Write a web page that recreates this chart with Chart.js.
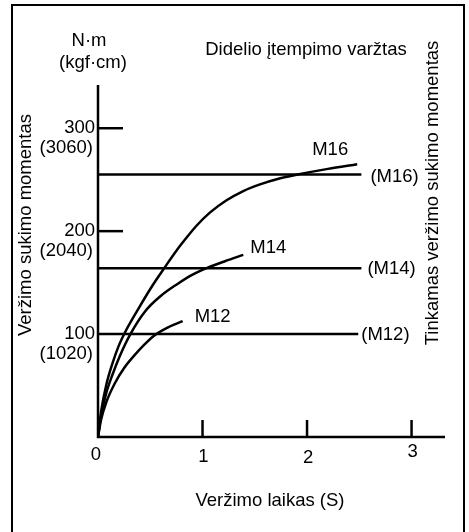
<!DOCTYPE html>
<html lang="lt">
<head>
  <meta charset="UTF-8" />
  <title>Veržimo sukimo momentas</title>
  <style>
    * { margin: 0; padding: 0; box-sizing: border-box; }
    body { background: white; width: 469px; height: 532px; overflow: hidden; }
    #wrap { position: relative; width: 469px; height: 532px; }
  </style>
</head>
<body>
  <div id="wrap"><canvas id="chartCanvas" width="469" height="532"></canvas></div>

  <script src="https://cdn.jsdelivr.net/npm/chart.js"></script>
  <script>
    // curves: x = time (s), y = torque (N·m)
    const m16X = [0, 0.03, 0.08, 0.14, 0.2, 0.27, 0.4, 0.52, 0.64, 0.75, 0.85, 0.94, 1.07, 1.23, 1.39, 1.55, 1.71, 1.91, 2.2, 2.48];
    const m16Y = [0, 25, 51, 72, 89, 104, 127, 147, 165, 181, 194, 205, 218, 230, 239, 245.5, 250.5, 255, 260.5, 265];
    const m14X = [0, 0.03, 0.08, 0.14, 0.21, 0.31, 0.45, 0.6, 0.75, 0.9, 1.05, 1.22, 1.39];
    const m14Y = [0, 21, 43, 61, 79, 100, 122, 137, 148, 157.5, 164.5, 171, 177];
    const m12X = [0, 0.03, 0.08, 0.16, 0.25, 0.35, 0.45, 0.53, 0.67, 0.81];
    const m12Y = [0, 17, 34, 52, 67, 79.5, 90.5, 98, 106.5, 112.5];

    // recommended torque lines
    const limitNames = ['(M16)', '(M14)', '(M12)'];
    const limitValues = [255, 164, 100];
    const limitEnds = [2.52, 2.52, 2.49];

    const curveNames = ['M16', 'M14', 'M12'];
    const xTicks = [0, 1, 2, 3];
    const yTicks = [100, 200, 300];
    const yTickLabels = ['100', '200', '300'];
    const yTickKgf = ['(1020)', '(2040)', '(3060)'];

    const FONT = '18.5px "Liberation Sans", Arial, sans-serif';

    function pts(xs, ys) {
      return xs.map((x, i) => ({ x: x, y: ys[i] }));
    }

    const datasets = [
      { data: pts(m16X, m16Y), cubicInterpolationMode: 'monotone' },
      { data: pts(m14X, m14Y), cubicInterpolationMode: 'monotone' },
      { data: pts(m12X, m12Y), cubicInterpolationMode: 'monotone' }
    ];
    limitValues.forEach((v, i) => {
      datasets.push({ data: [{ x: 0, y: v }, { x: limitEnds[i], y: v }] });
    });
    datasets.forEach(d => {
      d.showLine = true;
      d.borderColor = '#000';
      d.borderWidth = 2.5;
      d.pointRadius = 0;
      d.fill = false;
    });

    // axes, ticks, labels and frame
    const drawing = {
      id: 'drawing',
      afterDatasetsDraw(chart) {
        const c = chart.ctx;
        const xs = chart.scales.x, ys = chart.scales.y;
        const x0 = xs.getPixelForValue(0), y0 = ys.getPixelForValue(0);
        c.save();
        c.strokeStyle = '#000';
        c.fillStyle = '#000';

        // frame (open at the bottom, like the scan)
        c.lineWidth = 2;
        c.beginPath();
        c.moveTo(12, 532); c.lineTo(12, 5); c.lineTo(464, 5); c.lineTo(464, 532);
        c.stroke();

        // axes
        c.lineWidth = 2.5;
        c.beginPath();
        c.moveTo(x0, ys.getPixelForValue(ys.max));
        c.lineTo(x0, y0);
        c.lineTo(xs.getPixelForValue(xs.max), y0);
        c.stroke();

        // x ticks point up
        xTicks.forEach(t => {
          if (t === 0) return;
          const px = xs.getPixelForValue(t);
          c.beginPath(); c.moveTo(px, y0); c.lineTo(px, y0 - 17); c.stroke();
        });
        // y ticks point right
        yTicks.forEach(t => {
          if (t === 100) return;
          const py = ys.getPixelForValue(t);
          c.beginPath(); c.moveTo(x0, py); c.lineTo(x0 + 25, py); c.stroke();
        });

        c.font = FONT;
        c.textBaseline = 'middle';

        c.textAlign = 'center';
        const xLabDy = [18, 20, 21, 15];
        xTicks.forEach((t, i) => {
          c.fillText(String(t), xs.getPixelForValue(t) + (t === 0 ? -2 : 1), y0 + xLabDy[i]);
        });

        c.textAlign = 'right';
        yTicks.forEach((t, i) => {
          const py = ys.getPixelForValue(t);
          c.fillText(yTickLabels[i], x0 - 3, py);
          c.fillText(yTickKgf[i], x0 - 5, py + 20);
        });

        c.textAlign = 'center';
        c.fillText('N·m', 89, 41);
        c.fillText('(kgf·cm)', 93, 63);
        c.fillText('Didelio įtempimo varžtas', 306, 50);
        c.fillText('Veržimo laikas (S)', 270, 501);

        // curve names next to their ends
        const ends = [[m16X, m16Y], [m14X, m14Y], [m12X, m12Y]];
        const off = [[-45, -14], [7, -7], [12, -4]];
        c.textAlign = 'left';
        ends.forEach((e, i) => {
          const n = e[0].length - 1;
          const px = xs.getPixelForValue(e[0][n]);
          const py = ys.getPixelForValue(e[1][n]);
          c.fillText(curveNames[i], px + off[i][0], py + off[i][1]);
        });

        // recommended line names
        const limOff = [[9, 2], [6, 1], [3, 1]];
        limitValues.forEach((v, i) => {
          const px = xs.getPixelForValue(limitEnds[i]);
          c.fillText(limitNames[i], px + limOff[i][0], ys.getPixelForValue(v) + limOff[i][1]);
        });

        // rotated titles
        c.textAlign = 'center';
        c.save();
        c.translate(26, 225);
        c.rotate(-Math.PI / 2);
        c.fillText('Veržimo sukimo momentas', 0, 0);
        c.restore();
        c.save();
        c.translate(433, 193);
        c.rotate(-Math.PI / 2);
        c.fillText('Tinkamas veržimo sukimo momentas', 0, 0);
        c.restore();

        c.restore();
      }
    };

    const ctx = document.getElementById('chartCanvas').getContext('2d');
    const chart = new Chart(ctx, {
      type: 'scatter',
      data: { datasets: datasets },
      options: {
        responsive: false,
        animation: false,
        layout: { padding: { left: 98, right: 24, top: 85, bottom: 95 } },
        plugins: { legend: { display: false }, tooltip: { enabled: false } },
        scales: {
          x: { type: 'linear', min: 0, max: 3.32, display: false },
          y: { type: 'linear', min: 0, max: 342, display: false }
        }
      },
      plugins: [drawing]
    });
  </script>
</body>
</html>
